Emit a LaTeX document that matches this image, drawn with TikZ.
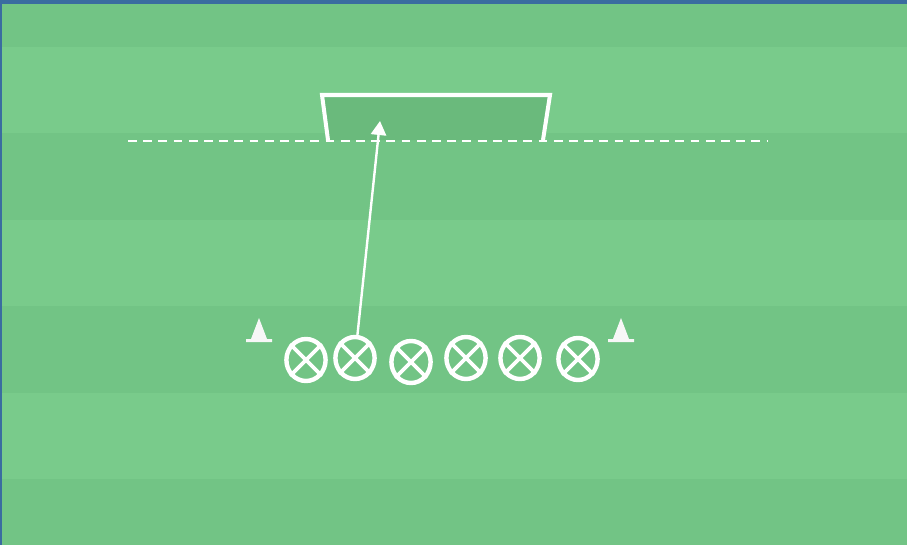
\documentclass[tikz,border=0pt]{standalone}
\usepackage{tikz}
\usetikzlibrary{arrows.meta,shapes.geometric}
\definecolor{grasslight}{RGB}{121,203,139}
\definecolor{grassdark}{RGB}{114,196,133}
\definecolor{goalnet}{RGB}{106,186,124}
\definecolor{frameblue}{RGB}{58,108,160}

\begin{document}
\begin{tikzpicture}[x=0.025cm, y=-0.025cm,
	player/.style={ellipse, draw=white, line width=0.11cm, minimum width=0.98cm, minimum height=1.05cm, inner sep=0pt},
	cone/.style={fill=white!94!gray},
	pass/.style={draw=white, line width=0.06cm, -{Triangle[length=0.35cm, width=0.38cm]}}]
	% pitch
	\useasboundingbox (0,0) rectangle (907,545);
	\fill[frameblue] (0,0) rectangle (907,545);
	\begin{scope}
		\clip (2,5) rectangle (907,545);
		\fill[grasslight] (2,5) rectangle (907,545);
		\foreach \y in {-40,133,306,479}
			\fill[grassdark] (2,\y) rectangle (907,\y+87);
	\end{scope}
	
	% goal and line
	\coordinate (gbl) at (328,140);
	\coordinate (gtl) at (322,95);
	\coordinate (gtr) at (550,95);
	\coordinate (gbr) at (543,140);
	\fill[goalnet] (gbl) -- (gtl) -- (gtr) -- (gbr) -- cycle;
	\coordinate (lineL) at (128,141);
	\coordinate (lineR) at (768,141);
	\draw[white, line width=0.07cm, dash pattern=on 0.22cm off 0.16cm] (lineL) -- (lineR);
	\draw[white, line width=0.1cm] (gbl) -- (gtl) -- (gtr) -- (gbr);
	
	% cones
	\coordinate (c1) at (259,331);
	\coordinate (c2) at (621,331);
	\foreach \c in {c1,c2}
		\fill[cone] (\c) ++(0,-13) -- ++(8,21) -- ++(5,0) -- ++(0,3) -- ++(-26,0) -- ++(0,-3) -- ++(5,0) -- cycle;
	
	% players
	\foreach \n/\x/\y in {1/306/360, 2/355/358, 3/411/362, 4/466/358, 5/520/358, 6/578/359}{
		\node[player] (p\n) at (\x,\y) {};
		\draw[white, line width=0.09cm] (p\n.45) -- (p\n.225) (p\n.135) -- (p\n.-45);
	}
	
	% shot
	\coordinate (shot) at (380,121);
	\draw[pass] (p2) -- (shot);
\end{tikzpicture}
\end{document}
